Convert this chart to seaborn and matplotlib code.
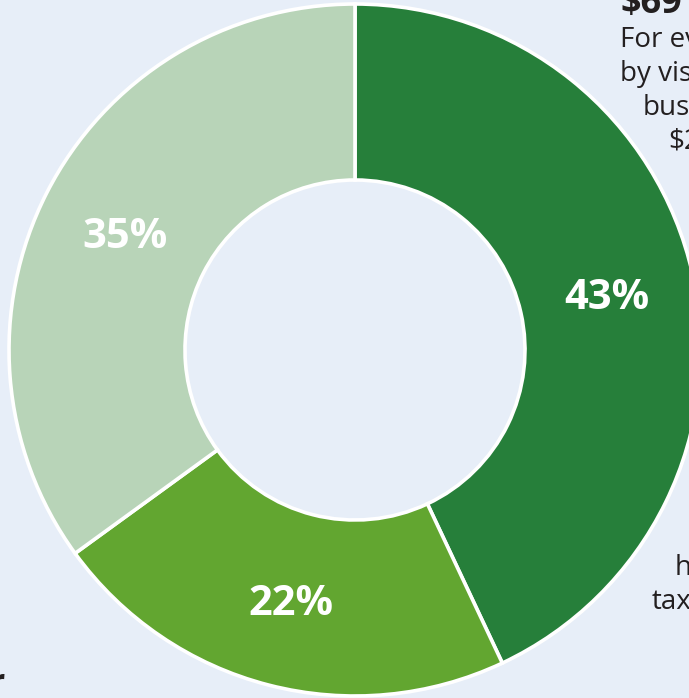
import matplotlib.pyplot as plt
import seaborn as sns

# donut shares, clockwise from the top
shares = [43, 22, 35]
slice_colors = ['#267f3a', '#62a630', '#b8d4b8']

# text fragments that run off the right edge of the crop
note_head = '$69'
note_lines = ['For ev', 'by vis', 'bus', '$2']
note_x = [620, 620, 643, 668]
tail_lines = ['h', 'tax']
tail_x = [675, 652]
left_word = 'r'

bg = '#e7eef8'
sns.set_style('white', {'axes.facecolor': bg, 'figure.facecolor': bg})
plt.rcParams['font.family'] = ['Open Sans', 'DejaVu Sans']

fig = plt.figure(figsize=(6.89, 6.98), dpi=100)
ax = fig.add_axes([0, 0, 1, 1])

cx, cy, r_out, r_in = 355, 350, 346, 170
wedges, _, pcts = ax.pie(
    shares, colors=slice_colors, startangle=-90, counterclock=True,
    center=(cx, cy), radius=r_out,
    autopct=lambda p: f'{p:.0f}%', pctdistance=(r_out + r_in) / 2 / r_out,
    wedgeprops=dict(width=r_out - r_in, edgecolor='white', linewidth=2.6),
    textprops=dict(color='white', fontsize=30, fontweight='bold'))
for t in pcts:
    x, y = t.get_position()
    t.set_position((x, y + 5))

ax.set_xlim(0, 689)
ax.set_ylim(698, 0)
ax.set_aspect('auto')
ax.axis('off')

ink = '#231f20'
ax.text(621, 13, note_head, fontsize=26, fontweight='bold', color=ink, va='baseline')
for i, (s, x) in enumerate(zip(note_lines, note_x)):
    ax.text(x, 47 + 34 * i, s, fontsize=20, color=ink, va='baseline')
for i, (s, x) in enumerate(zip(tail_lines, tail_x)):
    ax.text(x, 575 + 34 * i, s, fontsize=20, color=ink, va='baseline')
ax.text(5, 692, left_word, fontsize=24, fontweight='bold', color=ink,
        ha='right', va='baseline')

fig.savefig('out.png', dpi=100, facecolor=bg)
